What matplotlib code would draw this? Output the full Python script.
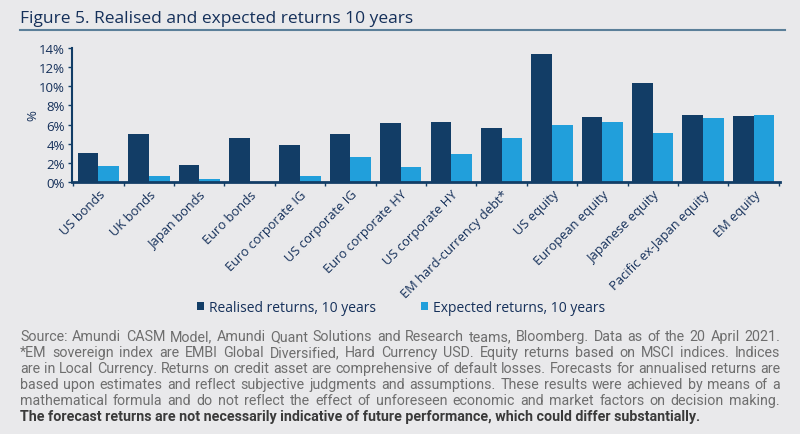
import matplotlib
matplotlib.use("Agg")
import matplotlib.pyplot as plt
import numpy as np
from matplotlib import font_manager

categories = ["US bonds", "UK bonds", "Japan bonds", "Euro bonds", "Euro corporate IG",
              "US corporate IG", "Euro corporate HY", "US corporate HY", "EM hard-currency debt*",
              "US equity", "European equity", "Japanese equity", "Pacific ex-Japan equity", "EM equity"]
realised = [3.0, 5.05, 1.8, 4.6, 3.87, 5.02, 6.13, 6.27, 5.6, 13.35, 6.8, 10.3, 7.0, 6.9]
expected = [1.62, 0.58, 0.3, 0.0, 0.58, 2.6, 1.6, 2.9, 4.63, 5.96, 6.27, 5.12, 6.69, 7.0]
yticks = [0, 2, 4, 6, 8, 10, 12, 14]
series_names = ["Realised returns, 10 years", "Expected returns, 10 years"]

title = "Figure 5. Realised and expected returns 10 years"
foot_lines = [
    "Source: Amundi CASM Model, Amundi Quant Solutions and Research teams, Bloomberg. Data as of the 20 April 2021.",
    "*EM sovereign index are EMBI Global Diversified, Hard Currency USD. Equity returns based on MSCI indices. Indices",
    "are in Local Currency. Returns on credit asset are comprehensive of default losses. Forecasts for annualised returns are",
    "based upon estimates and reflect subjective judgments and assumptions. These results were achieved by means of a",
    "mathematical formula and do not reflect the effect of unforeseen economic and market factors on decision making.",
]
foot_bold = "The forecast returns are not necessarily indicative of future performance, which could differ substantially."

BG = "#e9e9eb"
NAVY = "#123d66"
LIGHT = "#219fdb"
TXT = "#15305a"
GRAY = "#6e6e6e"

avail = {f.name for f in font_manager.fontManager.ttflist}
main_font = "Open Sans" if "Open Sans" in avail else "DejaVu Sans"
foot_font = "Roboto" if "Roboto" in avail else "Liberation Sans"
plt.rcParams['font.family'] = [main_font, 'DejaVu Sans']

W, H = 800, 435
fig = plt.figure(figsize=(8, 4.35), dpi=100, facecolor=BG)

ax = fig.add_axes([72 / W, 1 - 183 / H, (780 - 72) / W, (183 - 49) / H], facecolor=BG)
x = np.arange(len(categories))
bw = 0.41
ax.bar(x - bw / 2, realised, bw, color=NAVY, label=series_names[0], zorder=2)
ax.bar(x + bw / 2, expected, bw, color=LIGHT, label=series_names[1], zorder=2)
ax.set_xlim(-0.525, len(categories) - 0.475)
ax.set_ylim(0, 14)
ax.set_yticks(yticks)
ax.set_yticklabels([f"{v}%" for v in yticks], fontsize=9.5, color=TXT)
ax.set_xticks(np.arange(len(categories) + 1) - 0.5, minor=False)
ax.set_xticklabels([])
ax.set_xticks(x, minor=True)
ax.set_xticklabels(categories, minor=True, rotation=45, ha="right", rotation_mode="anchor",
                   fontsize=9.3, color=TXT)
ax.tick_params(axis="x", which="minor", length=0, pad=4)
ax.tick_params(axis="x", which="major", length=3, width=1, color=NAVY, direction="out")
ax.tick_params(axis="y", length=3, width=1, color=NAVY, pad=2)
for s in ["top", "right"]:
    ax.spines[s].set_visible(False)
ax.spines["left"].set_color(NAVY)
ax.spines["left"].set_linewidth(1.5)
ax.spines["bottom"].set_color(NAVY)
ax.spines["bottom"].set_linewidth(2)
ax.set_ylabel("%", fontsize=9.5, color=TXT, labelpad=0)

fig.text(20 / W, 1 - 19 / H, title, fontsize=12.5, color=TXT, va="center", ha="left")
fig.add_artist(plt.Line2D([20 / W, 785 / W], [1 - 31 / H, 1 - 31 / H], color="#5b7f99", lw=1.5))

# legend
leg = fig.legend(handles=ax.containers, labels=series_names, loc="center",
                 bbox_to_anchor=(401 / W, 1 - 308 / H), ncol=2, frameon=False,
                 fontsize=10, handlelength=0.5, handleheight=0.5, handletextpad=0.4,
                 columnspacing=3.2, labelcolor=TXT)

# footnote, justified
fig.canvas.draw()
r = fig.canvas.get_renderer()

def width(s, fs, weight="normal"):
    t = fig.text(0, 0, s, fontsize=fs, family=foot_font, weight=weight)
    w = t.get_window_extent(renderer=r).width
    t.remove()
    return w

fs = 10.0 * 682.0 / width(foot_bold, 10.0, "bold")

x0, x1 = 20, 780
ys = [337, 353, 369, 385, 401]
for line, yy in zip(foot_lines, ys):
    words = line.split(" ")
    ws = [width(wd, fs) for wd in words]
    gap = (x1 - x0 - sum(ws)) / (len(words) - 1)
    cx = x0
    for wd, wv in zip(words, ws):
        fig.text(cx / W, 1 - yy / H, wd, fontsize=fs, family=foot_font, color=GRAY,
                 va="center", ha="left")
        cx += wv + gap
fig.text(x0 / W, 1 - 417 / H, foot_bold, fontsize=fs, family=foot_font, color="#3a3a3a",
         weight="bold", va="center", ha="left")

fig.savefig("out.png", dpi=100, facecolor=BG)
